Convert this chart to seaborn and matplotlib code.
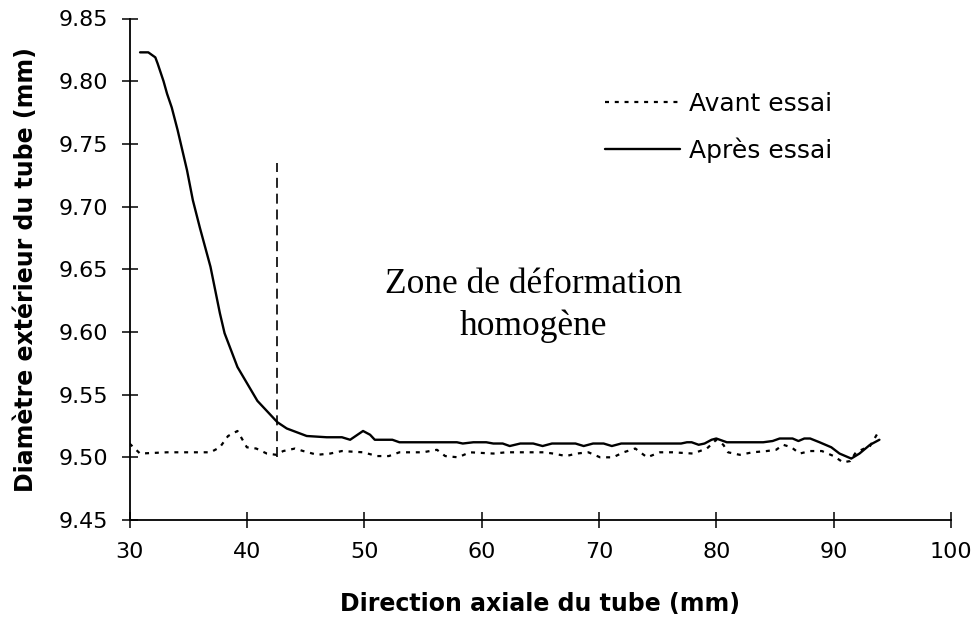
import numpy as np
import pandas as pd
import seaborn as sns
import matplotlib
matplotlib.use("Agg")
import matplotlib.pyplot as plt
from matplotlib.lines import Line2D

# ---- data ----
x_apres = [30.9, 31.6, 32.2, 32.4, 32.9, 33.2, 33.6, 34.1, 34.5, 34.9, 35.4, 36.0,
           36.9, 37.7, 38.1, 39.2, 40.9, 42.6, 43.4, 45.1, 46.8, 48.1, 48.8, 49.9,
           50.5, 50.9, 52.4, 53.0, 57.9, 58.4, 59.3, 60.4, 61.0, 61.8, 62.4, 63.3,
           64.4, 65.2, 66.0, 68.0, 68.7, 69.5, 70.4, 71.1, 71.9, 77.0, 77.5, 77.9,
           78.5, 79.0, 79.6, 80.0, 80.3, 80.9, 84.0, 84.8, 85.4, 86.5, 87.0, 87.5,
           88.0, 88.8, 89.8, 90.5, 91.5, 92.2, 93.1, 93.9]
y_apres = [9.823, 9.823, 9.819, 9.814, 9.800, 9.790, 9.779, 9.761, 9.745, 9.729, 9.705, 9.683,
           9.652, 9.615, 9.599, 9.572, 9.545, 9.528, 9.523, 9.517, 9.516, 9.516, 9.514, 9.521,
           9.518, 9.514, 9.514, 9.512, 9.512, 9.511, 9.512, 9.512, 9.511, 9.511, 9.509, 9.511,
           9.511, 9.509, 9.511, 9.511, 9.509, 9.511, 9.511, 9.509, 9.511, 9.511, 9.512, 9.512,
           9.510, 9.511, 9.514, 9.515, 9.514, 9.512, 9.512, 9.513, 9.515, 9.515, 9.513, 9.515,
           9.515, 9.512, 9.508, 9.503, 9.499, 9.503, 9.510, 9.514]

x_avant = [30.0, 30.9, 33.2, 36.9, 37.7, 38.4, 39.2, 40.0, 40.8, 41.7, 42.5, 43.1,
           44.1, 44.8, 46.0, 47.1, 48.1, 49.9, 51.1, 52.1, 53.0, 55.0, 56.2, 56.9,
           58.0, 59.0, 61.0, 62.1, 65.3, 66.1, 67.2, 68.1, 69.1, 70.1, 71.2, 72.1,
           73.1, 74.1, 75.2, 76.3, 78.0, 79.2, 80.0, 80.6, 81.0, 82.0, 83.1, 84.3,
           85.1, 85.7, 86.4, 87.1, 88.0, 89.0, 90.0, 90.8, 91.4, 91.9, 93.1, 93.8]
y_avant = [9.511, 9.503, 9.504, 9.504, 9.508, 9.517, 9.521, 9.508, 9.507, 9.503, 9.502, 9.505,
           9.507, 9.505, 9.502, 9.503, 9.505, 9.504, 9.501, 9.501, 9.504, 9.504, 9.506, 9.501,
           9.500, 9.504, 9.503, 9.504, 9.504, 9.503, 9.501, 9.503, 9.504, 9.500, 9.500, 9.504,
           9.507, 9.500, 9.504, 9.504, 9.503, 9.507, 9.514, 9.510, 9.504, 9.502, 9.504, 9.505,
           9.506, 9.510, 9.508, 9.503, 9.505, 9.505, 9.501, 9.496, 9.497, 9.504, 9.509, 9.520]

zone_x = 42.6
zone_y = [9.500, 9.735]

x_ticks = [30, 40, 50, 60, 70, 80, 90, 100]
y_ticks = [9.45, 9.50, 9.55, 9.60, 9.65, 9.70, 9.75, 9.80, 9.85]

labels = ["Avant essai", "Après essai"]
xlabel = "Direction axiale du tube (mm)"
ylabel = "Diamètre extérieur du tube (mm)"
zone_text = "Zone de déformation\nhomogène"

# ---- plotting ----
sns.set_theme(style="white")
plt.rcParams['font.family'] = ['DejaVu Sans']
plt.rcParams['text.color'] = 'black'
plt.rcParams['axes.labelcolor'] = 'black'
plt.rcParams['xtick.color'] = 'black'
plt.rcParams['ytick.color'] = 'black'

fig = plt.figure(figsize=(9.73, 6.21), dpi=100)
ax = fig.add_axes([129.5/973, 1 - 520/621, (951 - 129.5)/973, (520 - 18.5)/621])

df_av = pd.DataFrame({"x": x_avant, "y": y_avant})
df_ap = pd.DataFrame({"x": x_apres, "y": y_apres})

sns.lineplot(data=df_av, x="x", y="y", ax=ax, color="black", lw=1.6,
             estimator=None, sort=False)
ax.lines[-1].set_dashes((1.8, 2.6))
sns.lineplot(data=df_ap, x="x", y="y", ax=ax, color="black", lw=1.7,
             estimator=None, sort=False)

ax.vlines(zone_x, zone_y[0], zone_y[1], colors="black", lw=1.2,
          linestyles=(0, (6, 3.5)))

ax.text(64.4, 9.621, zone_text, ha="center", va="center", color="black",
        fontsize=25.5, family="Liberation Serif", linespacing=1.35)

ax.set_xlim(30, 100)
ax.set_ylim(9.45, 9.85)
ax.set_xticks(x_ticks)
ax.set_yticks(y_ticks)
ax.set_xticklabels([str(v) for v in x_ticks])
ax.set_yticklabels([f"{v:.2f}" for v in y_ticks])

for s in ["top", "right"]:
    ax.spines[s].set_visible(False)
for s in ["left", "bottom"]:
    ax.spines[s].set_color("black")
    ax.spines[s].set_linewidth(1.3)

ax.tick_params(axis="both", which="major", direction="inout", length=11,
               width=1.1, color="black", labelsize=16, labelcolor="black",
               bottom=True, left=True)
ax.tick_params(axis="y", pad=10)
ax.tick_params(axis="x", pad=10)

ax.set_xlabel(xlabel, fontsize=17, fontweight="bold", labelpad=22, color="black")
ax.set_ylabel(ylabel, fontsize=17, fontweight="bold", labelpad=15, color="black")

handles = [Line2D([], [], color="black", lw=1.6, dashes=(1.8, 2.6)),
           Line2D([], [], color="black", lw=1.7)]
leg = fig.legend(handles, labels, loc="upper left",
                 bbox_to_anchor=(605/973, 1 - 92/621), frameon=False,
                 fontsize=18, handlelength=3.0, handletextpad=0.35,
                 labelspacing=0.85, borderpad=0, borderaxespad=0)
for t in leg.get_texts():
    t.set_color("black")

fig.savefig("out.png", dpi=100, facecolor="white")
